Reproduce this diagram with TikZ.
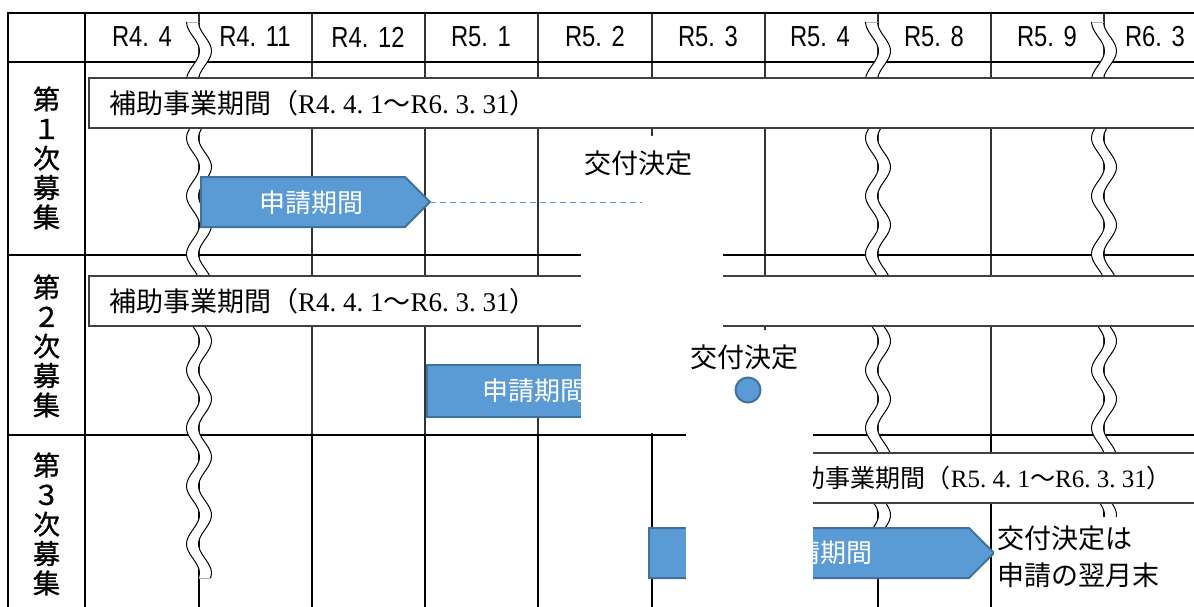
\documentclass[tikz,border=0pt]{standalone}
\usepackage{fontspec}
\newfontfamily\jp{Noto Sans CJK JP}
\newfontfamily\jpb[FakeBold=1.2]{Noto Sans CJK JP}
\newfontfamily\ser{Liberation Serif}
\newfontfamily\hdr[FakeStretch=0.82]{Liberation Sans}
\definecolor{afill}{HTML}{5B9BD5}
\definecolor{aedge}{HTML}{41719C}
\definecolor{gline}{HTML}{404040}
\newcommand\mywave[3]{%
  \fill[white] plot[domain=#2:#3,samples=120,smooth] ({#1-6.5*cos(6.2069*(\x-22))-6},\x)
    -- plot[domain=#3:#2,samples=120,smooth] ({#1-6.5*cos(6.2069*(\x-22))+6},\x) -- cycle;
  \draw[wavel] plot[domain=#2:#3,samples=120,smooth] ({#1-6.5*cos(6.2069*(\x-22))-6},\x);
  \draw[wavel] plot[domain=#2:#3,samples=120,smooth] ({#1-6.5*cos(6.2069*(\x-22))+6},\x);
  \draw[waveend] ({#1-6.5*cos(6.2069*(#2-22))-6},#2) -- ({#1-6.5*cos(6.2069*(#2-22))+6},#2);
  \draw[waveend] ({#1-6.5*cos(6.2069*(#3-22))-6},#3) -- ({#1-6.5*cos(6.2069*(#3-22))+6},#3);
}
\begin{document}
\begin{tikzpicture}[x=1pt,y=-1pt,
  major/.style={line width=2pt,black},
  minor/.style={line width=1.3pt,black!80},
  row3v/.style={line width=2pt,black},
  wavel/.style={line width=1pt,black},
  waveend/.style={line width=0.5pt,gray!60},
  hdrtext/.style={font=\hdr\fontsize{29}{30}\selectfont,inner sep=0},
  rowlab/.style={font=\jpb\fontsize{27}{29.5}\selectfont,align=center,inner sep=0},
  periodbox/.style={draw=gline,line width=1.3pt,fill=white},
  periodtext/.style={font=\jp\fontsize{27}{27}\selectfont,inner sep=0},
  arrowbox/.style={draw=aedge,line width=2pt,fill=afill},
  arrowtext/.style={font=\jp\fontsize{26}{26}\selectfont,text=white,inner sep=0},
  kofutext/.style={font=\jp\fontsize{27}{37}\selectfont,inner sep=0,align=left},
  mask/.style={fill=white}]
\useasboundingbox (0,0) rectangle (1194,607);
\clip (0,0) rectangle (1194,607);
% grid
\foreach \xx in {199,312,425,538,652,765,878,991,1104}{
  \draw[minor] (\xx,13) -- (\xx,435);
  \draw[row3v] (\xx,435) -- (\xx,607);
}
\draw[major] (8,13) -- (1200,13);
\draw[major] (8,62) -- (1200,62);
\draw[major] (8,255) -- (1200,255);
\draw[major] (8,435) -- (1200,435);
\draw[major] (8,12) -- (8,610);
\draw[major] (85,12) -- (85,610);
% header texts
\node[hdrtext] (c1) at (142,37) {R4.\,\,4};
\node[hdrtext] (c2) at (255,37) {R4.\,\,11};
\node[hdrtext] (c3) at (368,37) {R4.\,\,12};
\node[hdrtext] (c4) at (481,37) {R5.\,\,1};
\node[hdrtext] (c5) at (595,37) {R5.\,\,2};
\node[hdrtext] (c6) at (708,37) {R5.\,\,3};
\node[hdrtext] (c7) at (820,37) {R5.\,\,4};
\node[hdrtext] (c8) at (934,37) {R5.\,\,8};
\node[hdrtext] (c9) at (1047,37) {R5.\,\,9};
\node[hdrtext] (c10) at (1155,37) {R6.\,\,3};
% row labels
\node[rowlab] (r1) at (46.5,158) {第\\１\\次\\募\\集};
\node[rowlab] (r2) at (46.5,346) {第\\２\\次\\募\\集};
\node[rowlab] (r3) at (46.5,524) {第\\３\\次\\募\\集};
% wave breaks
\mywave{199}{22}{578}
\mywave{878}{22}{553}
\mywave{1104}{22}{540}
% period boxes
\path[periodbox] (89,78) rectangle (1210,128);
\node[periodtext,anchor=west] (p1) at (109,103) {補助事業期間（{\ser R4.~4.~1}～{\ser R6.~3.~31}）};
\path[periodbox] (89,276) rectangle (1210,326);
\node[periodtext,anchor=west] (p2) at (109,301) {補助事業期間（{\ser R4.~4.~1}～{\ser R6.~3.~31}）};
\path[periodbox] (760,453) rectangle (1210,503);
\node[periodtext,anchor=east,font=\jp\fontsize{25}{25}\selectfont] (p3) at (1172,478) {補助事業期間（{\ser R5.~4.~1}～{\ser R6.~3.~31}）};
% application arrows
\path[arrowbox] (201,177) -- (405,177) -- (430,202) coordinate (tip1) -- (405,227) -- (201,227) -- cycle;
\node[arrowtext] (a1) at (311,203) {申請期間};
\path[arrowbox] (427,365) rectangle (640,417);
\node[arrowtext,anchor=west] (a2) at (482,391) {申請期間};
\path[arrowbox] (649,528) -- (969,528) -- (994,553) -- (969,578) -- (649,578) -- cycle;
\node[arrowtext] (a3) at (820,553) {申請期間};
% row 3 note
\fill[white] (994,517) rectangle (1175,607);
\node[kofutext,anchor=west] (n3) at (997,557) {交付決定は\\申請の翌月末};
% masks
\path[mask] (581,136) rectangle (723,433);
\path[mask] (686,330) rectangle (813,607);
% decisions
\coordinate (dend) at (642,202);
\draw[afill,line width=1pt,dash pattern=on 6pt off 4pt] (tip1) -- (dend);
\node[kofutext] (k1) at (638,163) {交付決定};
\node[kofutext] (k2) at (744,357) {交付決定};
\node[circle,draw=aedge,line width=2pt,fill=afill,minimum size=25pt,inner sep=0] (dot2) at (748,390) {};
\end{tikzpicture}
\end{document}
